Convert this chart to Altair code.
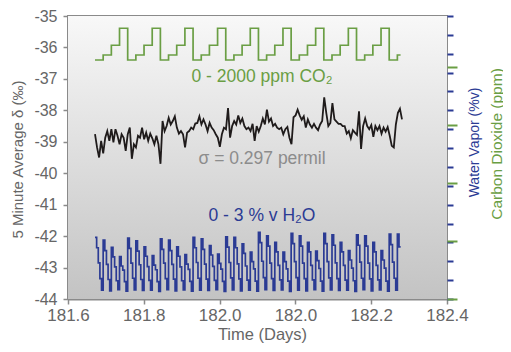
import json
import altair as alt
import pandas as pd

# ---------------- data ----------------
x_ticks = [181.6, 181.76, 181.92, 182.08, 182.24, 182.4]
x_tick_labels = ["181.6", "181.8", "182.0", "182.0", "182.2", "182.4"]
y_ticks = [-35, -36, -37, -38, -39, -40, -41, -42, -43, -44]
wv_ticks = [0, 0.2, 0.4, 0.6, 0.8, 1.0, 1.2, 1.4, 1.6, 1.8, 2.0, 2.2, 2.4, 2.6, 2.8, 3.0]
co2_ticks = [0, 500, 1000, 1500, 2000]

t_start = 181.657
t_end = 182.302
delta_step = 0.00432     # time between plotted delta points (days)
five_min = 0.00345       # 5-minute sample spacing (days)
co2_step_len = 0.01725   # duration of one CO2 level (days)

# 5-minute average delta (black)
delta_vals = [
    -38.76, -39.18, -39.50, -38.97, -39.37, -38.87, -38.66, -38.97, -38.60, -39.02,
    -38.60, -38.81, -39.08, -38.76, -38.87, -39.29, -38.76, -38.55, -39.54, -39.08,
    -39.18, -38.81, -38.87, -38.55, -38.92, -38.71, -38.97, -38.74, -38.89, -39.08,
    -38.81, -39.08, -39.70, -38.34, -38.66, -38.50, -38.24, -38.45, -38.34, -38.19,
    -38.55, -38.74, -38.66, -38.76, -39.18, -38.71, -38.66, -38.55, -38.60, -38.42,
    -38.40, -38.19, -38.45, -38.29, -38.45, -38.66, -38.40, -38.55, -38.63, -38.76,
    -38.87, -39.16, -38.76, -38.55, -38.60, -37.93, -38.87, -38.50, -38.34, -38.45,
    -38.16, -38.40, -38.26, -38.50, -38.60, -38.55, -38.66, -38.43, -38.97, -38.50,
    -38.68, -38.50, -38.26, -38.45, -37.98, -38.36, -38.26, -38.50, -38.43, -38.55,
    -38.60, -38.55, -38.76, -38.60, -38.53, -38.87, -39.08, -38.22, -38.16, -37.98,
    -38.16, -38.30, -38.19, -38.55, -38.29, -38.45, -38.55, -38.43, -38.55, -38.63,
    -38.45, -38.34, -37.59, -38.08, -38.50, -38.40, -37.77, -38.29, -38.36, -38.43,
    -38.43, -38.50, -38.50, -38.74, -38.66, -38.89, -38.63, -38.71, -38.78, -38.03,
    -39.23, -38.50, -38.26, -38.50, -38.60, -38.47, -38.84, -38.50, -38.63, -38.50,
    -38.74, -38.55, -38.68, -38.53, -38.81, -39.13, -39.18, -38.45, -38.08, -37.95,
    -38.29,
]

# CO2 trace (green), one value per CO2 level, plotted on the delta axis
co2_vals = [
    -36.40, -36.24, -35.93, -35.39, -36.40, -36.24, -35.93, -35.39,
    -36.40, -36.24, -35.93, -35.39, -36.40, -36.24, -35.93, -35.39,
    -36.40, -36.24, -35.93, -35.39, -36.40, -36.24, -35.93, -35.39,
    -36.40, -36.24, -35.93, -35.39, -36.40, -36.24, -35.93, -35.39,
    -36.40, -36.24, -35.93, -35.39, -36.40, -36.24, -36.24,
]

# Water vapour trace (blue), 5-minute samples, plotted on the delta axis
h2o_cycles = [
    [-42.04, -42.37, -42.85, -43.35, -43.72], [-42.13, -42.46, -42.90, -43.38, -43.74],
    [-42.36, -42.66, -42.98, -43.42, -43.70], [-42.65, -42.95, -43.08, -43.45, -43.75],
    [-42.06, -42.39, -42.86, -43.34, -43.71], [-42.15, -42.48, -42.91, -43.38, -43.73],
    [-42.34, -42.64, -42.97, -43.41, -43.72], [-42.62, -42.92, -43.07, -43.45, -43.76],
    [-42.09, -42.42, -42.86, -43.35, -43.70], [-42.13, -42.46, -42.90, -43.37, -43.74],
    [-42.34, -42.64, -42.98, -43.42, -43.71], [-42.59, -42.89, -43.06, -43.44, -43.75],
    [-42.04, -42.37, -42.84, -43.34, -43.72], [-42.09, -42.42, -42.89, -43.37, -43.73],
    [-42.30, -42.60, -42.96, -43.41, -43.70], [-42.57, -42.87, -43.05, -43.44, -43.76],
    [-42.02, -42.35, -42.84, -43.33, -43.71], [-42.04, -42.37, -42.88, -43.36, -43.74],
    [-42.25, -42.55, -42.95, -43.40, -43.72], [-42.51, -42.81, -43.04, -43.43, -43.75],
    [-41.88, -42.21, -42.80, -43.32, -43.70], [-41.99, -42.32, -42.86, -43.35, -43.73],
    [-42.20, -42.50, -42.93, -43.39, -43.71], [-42.51, -42.81, -43.04, -43.43, -43.76],
    [-41.91, -42.24, -42.81, -43.32, -43.72], [-41.99, -42.32, -42.86, -43.35, -43.74],
    [-42.20, -42.50, -42.93, -43.39, -43.70], [-42.48, -42.78, -43.03, -43.43, -43.75],
    [-41.91, -42.24, -42.81, -43.33, -43.71], [-41.96, -42.29, -42.85, -43.35, -43.73],
    [-42.20, -42.50, -42.93, -43.40, -43.72], [-42.46, -42.76, -43.02, -43.42, -43.76],
    [-41.96, -42.29, -42.83, -43.34, -43.70], [-41.99, -42.32, -42.86, -43.36, -43.74],
    [-42.20, -42.50, -42.93, -43.39, -43.71], [-42.46, -42.76, -43.02, -43.43, -43.75],
    [-41.94, -42.27, -42.83, -43.34, -43.72], [-41.94, -42.34, -42.34],
]

# ---------------- tables ----------------
delta_df = pd.DataFrame({
    "t": [t_start + i * delta_step for i in range(len(delta_vals))],
    "v": delta_vals,
})
co2_t = [t_start + i * co2_step_len for i in range(len(co2_vals) - 1)] + [t_end]
co2_df = pd.DataFrame({"t": co2_t, "v": co2_vals})
h2o_flat = [v for cyc in h2o_cycles for v in cyc]
h2o_df = pd.DataFrame({
    "t": [t_start + i * five_min for i in range(len(h2o_flat))],
    "v": h2o_flat,
})

# ---------------- styling ----------------
FONT = "Liberation Sans"
GRAY = "#8a8a8a"
LABEL = "#666666"
GREEN = "#6a9e44"
BLUE = "#2b3b94"
BLACK = "#1f1b1b"

xscale = alt.Scale(domain=[181.6, 182.4], nice=False, zero=False)
yscale = alt.Scale(domain=[-44, -35], nice=False, zero=False)

label_expr = json.dumps(x_tick_labels).replace('"', "'") + \
    "[round((datum.value - 181.6) / 0.16)]"

x_axis = alt.Axis(
    values=x_ticks, labelExpr=label_expr, title="Time (Days)", grid=False,
    domainColor=GRAY, domainWidth=2, tickColor=GRAY, tickSize=5, tickWidth=1.5,
    labelFont=FONT, labelFontSize=17, labelColor=LABEL, labelFlush=False,
    labelPadding=3, labelOverlap=False,
    titleFont=FONT, titleFontSize=16.5, titleColor=LABEL, titleFontWeight="normal",
    titleX=194, titleY=35, titleAlign="center", titleBaseline="middle",
)
y_axis = alt.Axis(
    orient="left", values=y_ticks, labelExpr="'' + datum.value",
    title="5 Minute Average δ (‰)", grid=False,
    domainColor=GRAY, domainWidth=2, tickColor=GRAY, tickSize=5, tickWidth=1.5,
    labelFont=FONT, labelFontSize=16, labelColor=LABEL, labelPadding=6,
    titleFont=FONT, titleFontSize=15, titleColor=LABEL, titleFontWeight="normal",
    titleAngle=270, titleX=-51, titleY=143, titleAlign="center", titleBaseline="middle",
)

X = alt.X("t:Q", scale=xscale, axis=x_axis)
Y = alt.Y("v:Q", scale=yscale, axis=y_axis)

gradient = alt.LinearGradient(
    gradient="linear",
    stops=[alt.GradientStop(color="#f8f8f8", offset=0),
           alt.GradientStop(color="#c3c3c3", offset=1)],
    x1=0, x2=0, y1=0, y2=1,
)
bg = alt.Chart(pd.DataFrame({"a": [0]})).mark_rect(fill=gradient).encode(
    x=alt.value(0), x2=alt.value("width"), y=alt.value(0), y2=alt.value("height")
)

co2_line = alt.Chart(co2_df).mark_line(
    interpolate="step-after", color=GREEN, strokeWidth=1.7
).encode(x=X, y=Y)
delta_line = alt.Chart(delta_df).mark_line(color=BLACK, strokeWidth=1.8).encode(x=X, y=Y)
h2o_line = alt.Chart(h2o_df).mark_line(
    interpolate="step-after", color=BLUE, strokeWidth=1.7
).encode(x=X, y=Y)

one = pd.DataFrame({"a": [0]})
txt_co2 = alt.Chart(one).mark_text(
    text="0 - 2000 ppm CO₂", font=FONT, fontSize=17.5, color=GREEN,
    align="center", baseline="alphabetic"
).encode(x=alt.value(194), y=alt.value(66))
txt_sigma = alt.Chart(one).mark_text(
    text="σ = 0.297 permil", font=FONT, fontSize=17.5, color="#8c8c8c",
    align="center", baseline="alphabetic"
).encode(x=alt.value(194), y=alt.value(148))
txt_h2o = alt.Chart(one).mark_text(
    text="0 - 3 % v H₂O", font=FONT, fontSize=17.5, color=BLUE,
    align="center", baseline="alphabetic"
).encode(x=alt.value(194), y=alt.value(205))

main = alt.layer(bg, co2_line, delta_line, h2o_line, txt_co2, txt_sigma, txt_h2o)

wv_axis = alt.Chart(pd.DataFrame({"w": wv_ticks})).mark_point(opacity=0).encode(
    y=alt.Y("w:Q", scale=alt.Scale(domain=[0, 3], nice=False, zero=False),
            axis=alt.Axis(orient="right", values=wv_ticks, labels=False, domain=False,
                          grid=False, tickColor=BLUE, tickSize=6, tickWidth=2,
                          title="Water Vapor (%v)", titleColor=BLUE, titleFont=FONT,
                          titleFontSize=14, titleFontWeight="normal", titleAngle=270,
                          titleX=27, titleY=126, titleAlign="center",
                          titleBaseline="middle"))
)
co2_axis = alt.Chart(pd.DataFrame({"c": co2_ticks})).mark_point(opacity=0).encode(
    y=alt.Y("c:Q", scale=alt.Scale(domain=[0, 2435], nice=False, zero=False),
            axis=alt.Axis(orient="right", values=co2_ticks, labels=False, domain=False,
                          grid=False, tickColor=GREEN, tickSize=10, tickWidth=2,
                          title="Carbon Dioxide (ppm)", titleColor=GREEN, titleFont=FONT,
                          titleFontSize=15.5, titleFontWeight="normal", titleAngle=270,
                          titleX=49, titleY=127.5, titleAlign="center",
                          titleBaseline="middle"))
)

chart = alt.layer(main, wv_axis, co2_axis).resolve_scale(y="independent").properties(
    width=379, height=283,
    autosize=alt.AutoSizeParams(type="none"),
    padding={"left": 60, "top": 8, "right": 56, "bottom": 45},
    background="white",
).configure_view(stroke=GRAY, strokeWidth=2)

chart.save("out.html", embed_options={"renderer": "svg", "actions": False})
